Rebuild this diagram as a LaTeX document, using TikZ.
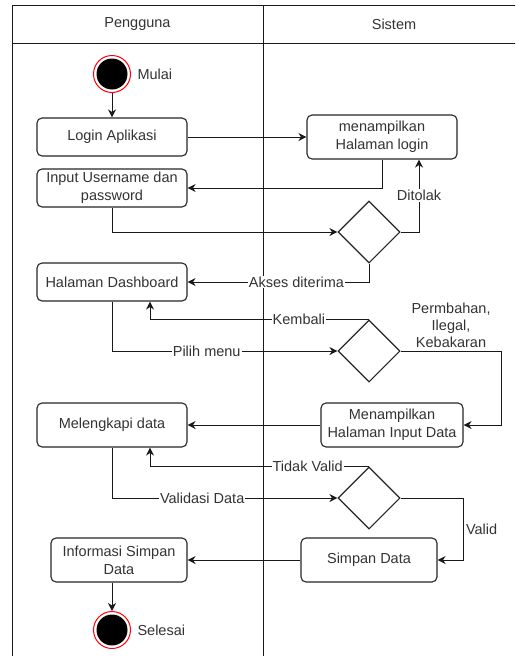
\documentclass[tikz,border=0pt]{standalone}
\usepackage{fontspec}
\setmainfont{Liberation Sans}
\usetikzlibrary{
    positioning,
    shapes.geometric,
    arrows.meta,
    calc
    }

\begin{document}
\begin{tikzpicture}[x=1pt, y=-1pt, font=\fontsize{14.5}{18}\selectfont]
% styles
\tikzset{lane/.style =
        {
            line width=1pt,
            draw=black!90
        }
}

\tikzset{activity/.style =
        {
            rectangle,
            rounded corners=5pt,
            draw=black!85,
            line width=1.1pt,
            fill=white,
            text=black!80,
            align=center,
            minimum width=150pt,
            minimum height=38pt,
            inner sep=1pt
        }
}

\tikzset{decision/.style =
        {
            diamond,
            shape aspect=1,
            draw=black!85,
            line width=1.1pt,
            fill=white,
            minimum size=62pt,
            inner sep=0pt
        }
}

\tikzset{endpoint/.style =
        {
            circle,
            draw=red,
            line width=1pt,
            fill=white,
            minimum size=37pt,
            inner sep=0pt,
            path picture={\fill[black] (path picture bounding box.center) circle [radius=15.5pt];}
        }
}

\tikzset{flow/.style = {
            line width=1pt,
            draw=black!90,
            -{Stealth[length=8pt, width=8pt, inset=2.5pt]}
        }
}

\tikzset{guard/.style = {
            fill=white,
            text=black!80,
            inner sep=1pt
        }
}

\useasboundingbox (0,0) rectangle (515,656);
\begin{scope}
    \clip (0,0) rectangle (515,656);
    \draw[lane] (12,670) -- (12,5) -- (530,5) -- (530,670);
    \draw[lane] (12,43) -- (530,43);
    \draw[lane] (263,5) -- (263,670);
\end{scope}
\node[text=black!80] (pengguna) at (137.5,24) {Pengguna};
\node[text=black!80] (sistem) at (394,24) {Sistem};

% nodes
\node[endpoint] (mulai) at (112,74) {};
\node[right=3pt of mulai, text=black!80] (mulaitxt) {Mulai};

\node[activity] (login) at (112,137) {Login Aplikasi};
\node[activity, minimum height=44pt] (tampil) at (382,137) {menampilkan\\Halaman login};
\node[activity] (input) at (112,188) {Input Username dan\\password};
\node[decision] (cek1) at (369,232) {};
\node[activity] (dash) at (112,282) {Halaman Dashboard};
\node[decision] (cek2) at (369,351) {};
\node[activity, minimum height=44pt] (lengkap) at (112,425) {Melengkapi data};
\node[activity, minimum width=142pt, minimum height=44pt] (inputdata) at (392,425) {Menampilkan\\Halaman Input Data};
\node[decision] (cek3) at (369,498) {};
\node[activity, minimum width=136pt, minimum height=44pt] (simpan) at (369,560) {Simpan Data};
\node[activity, minimum width=136pt, minimum height=44pt] (info) at (119,560) {Informasi Simpan\\Data};
\node[endpoint] (selesai) at (112,630) {};
\node[right=3pt of selesai, text=black!80] (selesaitxt) {Selesai};

% connectors
\draw[flow] (mulai) -- (login);
\draw[flow] (login) -- (tampil);
\draw[flow] (tampil.south) |- (input.east);
\draw[flow] (input.south) |- (cek1.west);
\draw[flow] (cek1.east) -| node[guard, pos=0.75] {Ditolak} ($(tampil.south)+(37,0)$);
\draw[flow] (cek1.south) |- node[guard, pos=0.7] {Akses diterima} (dash.east);
\draw[flow] (cek2.north) -| node[guard, pos=0.16] {Kembali} ($(dash.south)+(38,0)$);
\draw[flow] (dash.south) |- node[guard, pos=0.71] {Pilih menu} (cek2.west);
\draw[flow] (cek2.east) -- node[above=2pt, align=center, text=black!80, inner sep=1pt, font=\fontsize{14.5}{17}\selectfont] {Permbahan,\\Ilegal,\\Kebakaran} ++(101,0) |- (inputdata.east);
\draw[flow] (inputdata.west) -- (lengkap.east);
\draw[flow] (cek3.north) -| node[guard, pos=0.14] {Tidak Valid} ($(lengkap.south)+(38,0)$);
\draw[flow] (lengkap.south) |- node[guard, pos=0.70] {Validasi Data} (cek3.west);
\draw[flow] (cek3.east) -- ++(63,0) |- node[pos=0.25, right=1pt, text=black!80, inner sep=1pt] {Valid} (simpan.east);
\draw[flow] (simpan.west) -- (info.east);
\draw[flow] (info.south -| selesai.north) -- (selesai);

\end{tikzpicture}
\end{document}
